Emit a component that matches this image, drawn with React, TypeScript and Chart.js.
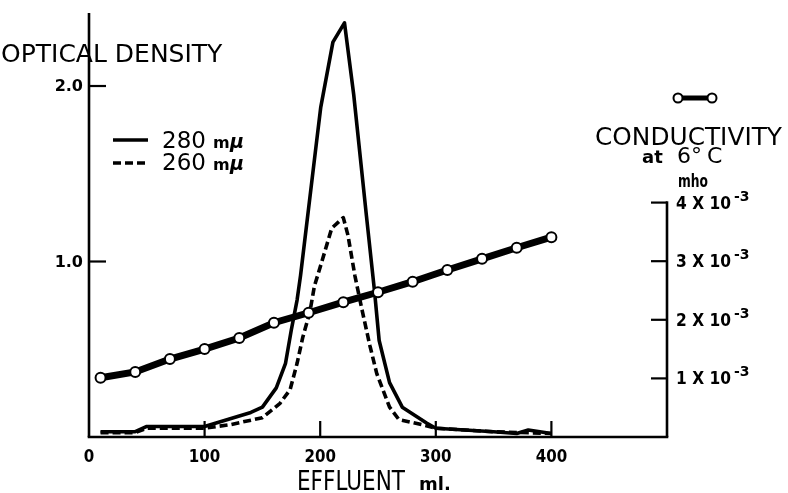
import { useEffect, useRef } from "react";
import { Chart, registerables } from "chart.js";

Chart.register(...registerables);

// Effluent volume (ml) and optical density, 280 mμ (solid)
const od280X = [10, 40, 50, 100, 120, 140, 150, 162, 170, 175, 180, 183, 197, 200.5, 211, 221, 229, 240, 247, 251, 260, 271, 292, 300, 350, 370, 380, 390, 400];
const od280Y = [0.03, 0.03, 0.06, 0.06, 0.1, 0.14, 0.17, 0.28, 0.42, 0.61, 0.78, 0.92, 1.69, 1.88, 2.25, 2.36, 1.95, 1.26, 0.83, 0.55, 0.31, 0.17, 0.08, 0.05, 0.03, 0.02, 0.04, 0.03, 0.02];

// Optical density, 260 mμ (dashed)
const od260X = [10, 40, 50, 100, 122, 150, 165, 174, 180, 185, 191, 195, 201, 210, 220, 224, 230, 236, 243, 249, 260, 268, 288, 300, 350, 400];
const od260Y = [0.025, 0.025, 0.05, 0.05, 0.07, 0.11, 0.19, 0.27, 0.42, 0.57, 0.71, 0.86, 0.99, 1.19, 1.25, 1.15, 0.92, 0.73, 0.52, 0.36, 0.17, 0.1, 0.07, 0.05, 0.03, 0.02];

// Conductivity at 6 °C (units of 10^-3 mho)
const condX = [10, 40, 70, 100, 130, 160, 190, 220, 250, 280, 310, 340, 370, 400];
const condY = [1.01, 1.11, 1.33, 1.5, 1.69, 1.95, 2.12, 2.3, 2.47, 2.65, 2.85, 3.04, 3.23, 3.41];

// Ticks
const xTickValues = [0, 100, 200, 300, 400];
const xTickLabels = ["0", "100", "200", "300", "400"];
const odTickValues = [1.0, 2.0];
const odTickLabels = ["1.0", "2.0"];
const condTickValues = [1, 2, 3, 4];
const condTickLabels = ["1 X 10", "2 X 10", "3 X 10", "4 X 10"];
const condTickExp = "-3";

const X_MAX = 500;
const OD_MAX = 2.416;
const COND_MAX = 7.235;
const COND_AXIS_TOP = 4;

const FONT = "'DejaVu Sans', sans-serif";

const toPoints = (xs: number[], ys: number[]) => xs.map((x, i) => ({ x, y: ys[i] }));

const decorPlugin = {
  id: "decor",
  beforeDatasetsDraw(chart: any) {
    const { ctx, scales } = chart;
    const x = scales.x, y = scales.y, y2 = scales.y2;
    const x0 = x.getPixelForValue(0);
    const xEnd = x.getPixelForValue(X_MAX);
    const y0 = y.getPixelForValue(0);
    const yTop = y.getPixelForValue(OD_MAX);
    ctx.save();
    ctx.strokeStyle = "#000";
    ctx.fillStyle = "#000";
    ctx.lineCap = "butt";
    ctx.lineWidth = 2.6;
    ctx.beginPath();
    ctx.moveTo(x0 - 1.3, y0);
    ctx.lineTo(xEnd + 1.3, y0);
    ctx.stroke();
    ctx.beginPath();
    ctx.moveTo(x0, y0);
    ctx.lineTo(x0, yTop);
    ctx.stroke();
    const yr4 = y2.getPixelForValue(COND_AXIS_TOP);
    ctx.beginPath();
    ctx.moveTo(xEnd, y0);
    ctx.lineTo(xEnd, yr4 - 1.3);
    ctx.stroke();
    ctx.lineWidth = 2.2;
    condTickValues.forEach((v) => {
      const py = y2.getPixelForValue(v);
      ctx.beginPath();
      ctx.moveTo(xEnd - 16, py);
      ctx.lineTo(xEnd, py);
      ctx.stroke();
    });
    odTickValues.forEach((v) => {
      const py = y.getPixelForValue(v);
      ctx.beginPath();
      ctx.moveTo(x0, py);
      ctx.lineTo(x0 + 17, py);
      ctx.stroke();
    });
    xTickValues.forEach((v) => {
      if (v === 0) return;
      const px = x.getPixelForValue(v);
      ctx.beginPath();
      ctx.moveTo(px, y0);
      ctx.lineTo(px, y0 - 16);
      ctx.stroke();
    });

    ctx.textAlign = "center";
    ctx.textBaseline = "alphabetic";
    ctx.font = `bold 18px ${FONT}`;
    xTickValues.forEach((v, i) => {
      const px = x.getPixelForValue(v);
      const lab = xTickLabels[i];
      ctx.fillText(lab, px, y0 + 25, lab.length * 10.5);
    });
    ctx.textAlign = "right";
    ctx.textBaseline = "middle";
    ctx.font = `bold 16px ${FONT}`;
    odTickValues.forEach((v, i) => {
      ctx.fillText(odTickLabels[i], x0 - 6, y.getPixelForValue(v) + 1);
    });
    ctx.textAlign = "left";
    ctx.textBaseline = "alphabetic";
    condTickValues.forEach((v, i) => {
      const py = y2.getPixelForValue(v);
      ctx.font = `bold 17px ${FONT}`;
      ctx.fillText(condTickLabels[i], xEnd + 9, py + 6, 55);
      ctx.font = `bold 14px ${FONT}`;
      ctx.fillText(condTickExp, xEnd + 67, py - 2, 20);
    });
    ctx.restore();
  },
  afterDraw(chart: any) {
    const { ctx } = chart;
    ctx.save();
    ctx.fillStyle = "#000";
    ctx.strokeStyle = "#000";
    ctx.textAlign = "left";
    ctx.textBaseline = "alphabetic";

    ctx.font = `25px ${FONT}`;
    ctx.fillText("OPTICAL DENSITY", 1, 62, 222);
    ctx.fillText("CONDUCTIVITY", 595, 145, 187);
    ctx.font = `bold 18px ${FONT}`;
    ctx.fillText("at", 642, 163);
    ctx.font = `22px ${FONT}`;
    ctx.fillText("6°", 677, 163);
    ctx.fillText("C", 707, 163);
    ctx.font = `bold 17px ${FONT}`;
    ctx.fillText("mho", 678, 187, 30);
    ctx.font = `27px ${FONT}`;
    ctx.fillText("EFFLUENT", 297, 490, 108);
    ctx.font = `bold 18px ${FONT}`;
    ctx.fillText("ml.", 419, 490, 36);

    ctx.lineWidth = 3.4;
    ctx.beginPath();
    ctx.moveTo(113, 140);
    ctx.lineTo(148, 140);
    ctx.stroke();
    ctx.setLineDash([8, 4]);
    ctx.beginPath();
    ctx.moveTo(113, 163);
    ctx.lineTo(149, 163);
    ctx.stroke();
    ctx.setLineDash([]);
    ctx.font = `23px ${FONT}`;
    ctx.fillText("280", 162, 148);
    ctx.fillText("260", 162, 170);
    [148, 170].forEach((by) => {
      ctx.font = `bold 16px ${FONT}`;
      ctx.fillText("m", 213, by);
      ctx.font = `italic bold 19px ${FONT}`;
      ctx.fillText("μ", 230, by);
    });

    ctx.lineWidth = 5;
    ctx.beginPath();
    ctx.moveTo(678, 98);
    ctx.lineTo(712, 98);
    ctx.stroke();
    ctx.lineWidth = 2;
    [678, 712].forEach((cx) => {
      ctx.beginPath();
      ctx.arc(cx, 98, 4.5, 0, Math.PI * 2);
      ctx.fillStyle = "#fff";
      ctx.fill();
      ctx.stroke();
    });
    ctx.restore();
  },
};

export default function App() {
  const canvasRef = useRef<HTMLCanvasElement | null>(null);

  useEffect(() => {
    const canvas = canvasRef.current;
    if (!canvas) return;
    const chart = new Chart(canvas, {
      type: "line",
      data: {
        datasets: [
          {
            label: "Conductivity",
            data: toPoints(condX, condY),
            yAxisID: "y2",
            borderColor: "#000",
            borderWidth: 7,
            pointRadius: 5,
            pointBorderWidth: 2,
            pointBackgroundColor: "#fff",
            pointBorderColor: "#000",
            tension: 0,
          },
          {
            label: "280 mμ",
            data: toPoints(od280X, od280Y),
            yAxisID: "y",
            borderColor: "#000",
            borderWidth: 3.6,
            pointRadius: 0,
            tension: 0,
            borderJoinStyle: "round",
          },
          {
            label: "260 mμ",
            data: toPoints(od260X, od260Y),
            yAxisID: "y",
            borderColor: "#000",
            borderWidth: 3.6,
            borderDash: [8, 4],
            pointRadius: 0,
            tension: 0,
            borderJoinStyle: "round",
          },
        ],
      },
      options: {
        animation: false,
        responsive: false,
        devicePixelRatio: 1,
        layout: { padding: { left: 89, right: 121, top: 13, bottom: 56 } },
        plugins: {
          legend: { display: false },
          tooltip: { enabled: false },
          title: { display: false },
        },
        events: [],
        scales: {
          x: { type: "linear", min: 0, max: X_MAX, display: false },
          y: { type: "linear", min: 0, max: OD_MAX, display: false },
          y2: { type: "linear", min: 0, max: COND_MAX, display: false, position: "right" },
        },
      },
      plugins: [decorPlugin],
    });
    return () => chart.destroy();
  }, []);

  return (
    <div style={{ position: "absolute", left: 0, top: 0, width: 788, height: 493, background: "#fff" }}>
      <canvas ref={canvasRef} width={788} height={493} style={{ display: "block" }} />
    </div>
  );
}
